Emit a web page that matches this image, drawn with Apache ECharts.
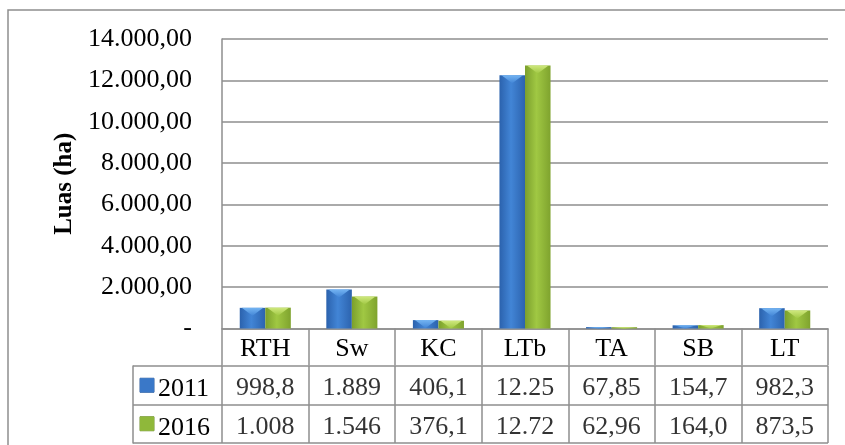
<!DOCTYPE html>
<html>
<head>
<meta charset="utf-8">
<script src="https://cdn.jsdelivr.net/npm/echarts@6/dist/echarts.min.js"></script>
<style>
  html, body { margin: 0; padding: 0; background: #ffffff; }
  #chart { width: 845px; height: 445px; }
</style>
</head>
<body>
<div id="chart"></div>
<script>
// Land area (ha) per land-cover class, 2011 vs 2016
const categories = ['RTH', 'Sw', 'KC', 'LTb', 'TA', 'SB', 'LT'];
const years = ['2011', '2016'];
const luas2011 = [998.8, 1889, 406.1, 12250, 67.85, 154.7, 982.3];
const luas2016 = [1008, 1546, 376.1, 12720, 62.96, 164.0, 873.5];
const yMin = 0;
const yMax = 14000;
const yStep = 2000;
const yTitle = 'Luas (ha)';

const FONT = "'Liberation Serif', 'Times New Roman', serif";
const LINE = '#8e8e8e';
const BLUE = '#3a78c8';
const GREEN = '#8fb83a';

// bar shading: [left edge, centre, right edge, bevel highlight]
const barShades = [
  ['#2b62ad', '#4285d6', '#2c63ae', '#74b4f2'],
  ['#7b9f2c', '#a0c843', '#7fa32e', '#cfe87e']
];
const CATEGORY_GAP = 0.41; // share of each category band left empty

// Indonesian number format: '.' thousands, ',' decimals
function fmt(v, dec) {
  const parts = v.toFixed(dec).split('.');
  const intPart = parts[0].replace(/\B(?=(\d{3})+(?!\d))/g, '.');
  return parts.length > 1 ? intPart + ',' + parts[1] : intPart;
}
// data-table cells only have room for five characters
function cellText(v) { return fmt(v, 2).slice(0, 5); }

// bevelled column: shaded body plus a light chevron at the top
function bevelBar(seriesIdx) {
  const shade = barShades[seriesIdx];
  return function (params, api) {
    const cat = api.value(0);
    const top = api.coord([cat, api.value(1)]);
    const base = api.coord([cat, 0]);
    const band = api.size([1, 0])[0];
    const w = band * (1 - CATEGORY_GAP) / 2;
    const x = top[0] - w + seriesIdx * w;
    const h = base[1] - top[1];
    const bev = Math.min(8, h);
    const body = new echarts.graphic.LinearGradient(0, 0, 1, 0, [
      { offset: 0, color: shade[0] }, { offset: 0.45, color: shade[1] }, { offset: 1, color: shade[2] }
    ]);
    return {
      type: 'group',
      children: [
        { type: 'rect', shape: { x: x, y: top[1], width: w, height: h }, style: { fill: body } },
        {
          type: 'polygon',
          shape: { points: [[x + 2, top[1]], [x + w - 2, top[1]], [x + w / 2, top[1] + bev]] },
          style: {
            fill: new echarts.graphic.LinearGradient(0, 0, 0, 1, [
              { offset: 0, color: shade[3] }, { offset: 1, color: shade[1] }
            ])
          }
        }
      ]
    };
  };
}

const tableRows = [luas2011, luas2016];
const tableCells = [];
tableRows.forEach((row, r) => row.forEach((v, c) => tableCells.push([c, r, v])));

const chart = echarts.init(document.getElementById('chart'), null, { renderer: 'canvas' });

chart.setOption({
  animation: false,
  backgroundColor: '#ffffff',
  textStyle: { fontFamily: FONT },
  graphic: [{
    type: 'rect', silent: true, z: -10,
    shape: { x: 8, y: 10, width: 900, height: 500 },
    style: { fill: 'none', stroke: '#8e8e8e', lineWidth: 1.5 }
  }],
  grid: [
    { left: 222, top: 39, width: 606, height: 289.5, outerBoundsMode: 'none' },
    { left: 222, top: 366, width: 606, height: 77, outerBoundsMode: 'none' }
  ],
  xAxis: [
    {
      gridIndex: 0, type: 'category', data: categories, boundaryGap: true,
      axisLine: { show: true, lineStyle: { color: LINE, width: 1.5 } },
      axisTick: { show: true, interval: 0, length: 37, lineStyle: { color: LINE, width: 1.5 } },
      axisLabel: { interval: 0, margin: 8, color: '#000', fontSize: 26, lineHeight: 26, fontFamily: FONT },
      splitLine: { show: false }
    },
    {
      gridIndex: 1, type: 'category', data: categories, boundaryGap: true,
      axisLine: { show: false }, axisTick: { show: false }, axisLabel: { show: false },
      splitLine: { show: true, interval: 0, lineStyle: { color: LINE, width: 1.5 } }
    }
  ],
  yAxis: [
    {
      gridIndex: 0, type: 'value', min: yMin, max: yMax, interval: yStep,
      name: yTitle, nameLocation: 'middle', nameRotate: 90, nameGap: 133,
      nameTextStyle: { fontSize: 25, fontWeight: 'bold', color: '#000', fontFamily: FONT },
      axisLine: { show: true, lineStyle: { color: LINE, width: 1.5 } },
      axisTick: { show: false },
      axisLabel: {
        margin: 30, color: '#000', fontSize: 26, fontFamily: FONT,
        formatter: v => (v === 0 ? '-' : fmt(v, 2))
      },
      splitLine: { show: true, lineStyle: { color: LINE, width: 1.5 } }
    },
    {
      gridIndex: 1, type: 'category', data: years, inverse: true, boundaryGap: true,
      position: 'left', offset: 89,
      axisLine: { show: true, lineStyle: { color: LINE, width: 1.5 } },
      axisTick: { show: true, interval: 0, inside: true, length: 89, lineStyle: { color: LINE, width: 1.5 } },
      axisLabel: {
        inside: true, interval: 0, margin: 7,
        formatter: (v, i) => '{' + (i === 0 ? 'b' : 'g') + '|}{t|' + v + '}',
        rich: {
          b: { width: 14, height: 14, backgroundColor: BLUE, borderColor: '#2a5a9c', borderWidth: 0.5 },
          g: { width: 14, height: 14, backgroundColor: GREEN, borderColor: '#6e8f2a', borderWidth: 0.5 },
          t: { fontSize: 26, color: '#000', fontFamily: FONT, padding: [8, 0, 0, 4] }
        }
      },
      splitLine: { show: true, interval: 0, lineStyle: { color: LINE, width: 1.5 } }
    }
  ],
  series: [
    {
      name: years[0], type: 'custom', xAxisIndex: 0, yAxisIndex: 0,
      renderItem: bevelBar(0),
      encode: { x: 0, y: 1 },
      data: luas2011.map((v, i) => [i, v])
    },
    {
      name: years[1], type: 'custom', xAxisIndex: 0, yAxisIndex: 0,
      renderItem: bevelBar(1),
      encode: { x: 0, y: 1 },
      data: luas2016.map((v, i) => [i, v])
    },
    {
      name: 'table', type: 'scatter', xAxisIndex: 1, yAxisIndex: 1,
      data: tableCells, symbolSize: 1, silent: true,
      itemStyle: { color: 'rgba(0,0,0,0)' },
      label: {
        show: true, position: 'inside', offset: [0, 3],
        fontSize: 26, color: '#000', fontFamily: FONT,
        formatter: p => cellText(p.value[2])
      }
    }
  ]
});
</script>
</body>
</html>
